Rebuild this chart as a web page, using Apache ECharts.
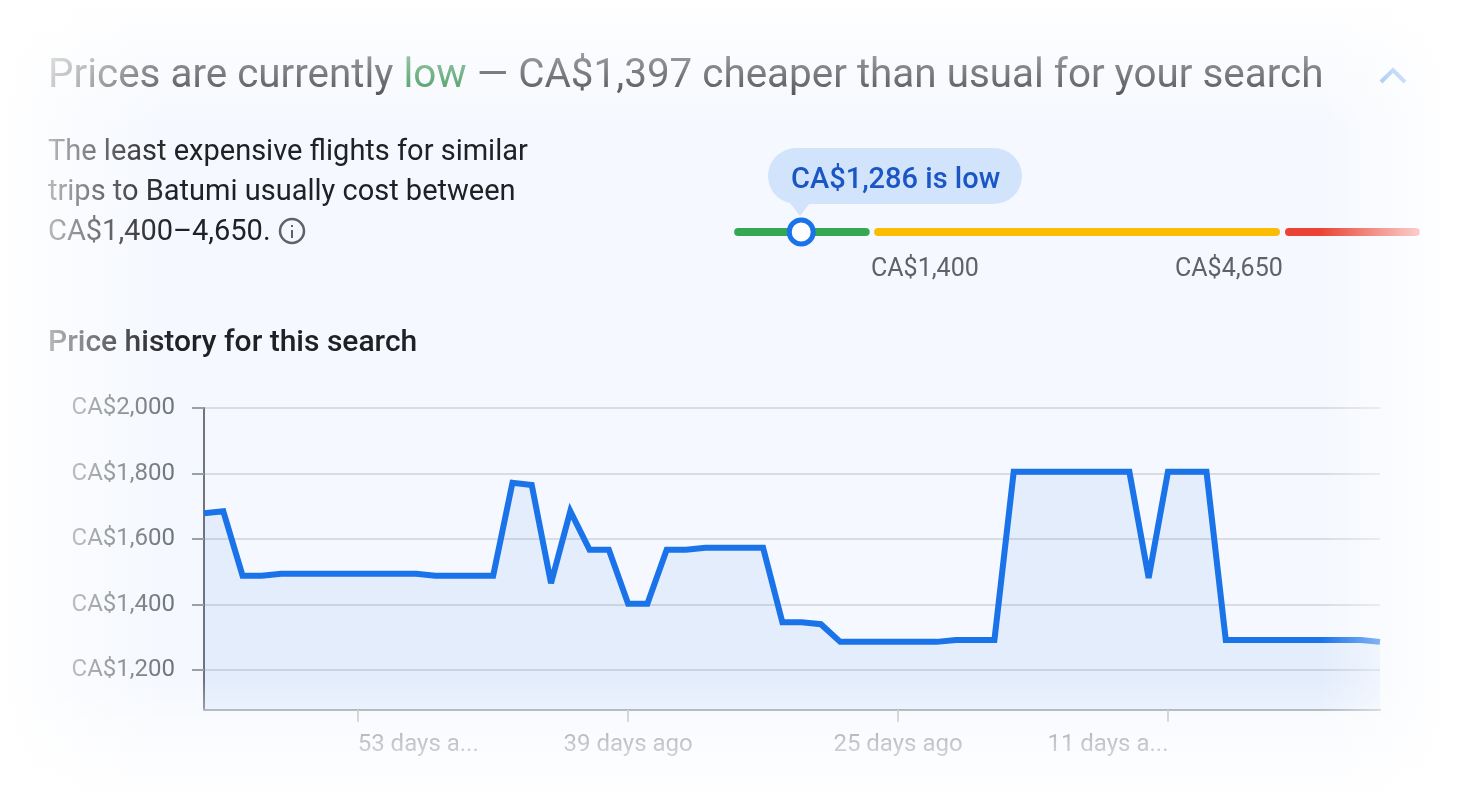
<!DOCTYPE html>
<html>
<head>
<meta charset="utf-8">
<title>Price history</title>
<style>
  html, body { margin: 0; padding: 0; background: #fff; }
  #main { width: 1468px; height: 798px; }
</style>
<script src="https://cdn.jsdelivr.net/npm/echarts@6/dist/echarts.min.js"></script>
</head>
<body>
<div id="main"></div>
<script>
// days before today, one point per day
var daysAgo = [61,60,59,58,57,56,55,54,53,52,51,50,49,48,47,46,45,44,43,42,41,40,39,38,37,36,35,34,33,32,31,30,29,28,27,26,25,24,23,22,21,20,19,18,17,16,15,14,13,12,11,10,9,8,7,6,5,4,3,2,1,0];
var prices = [1679,1685,1488,1488,1494,1494,1494,1494,1494,1494,1494,1494,1488,1488,1488,1488,1772,1765,1465,1685,1567,1567,1402,1402,1567,1567,1573,1573,1573,1573,1346,1346,1340,1286,1286,1286,1286,1286,1286,1292,1292,1292,1805,1805,1805,1805,1805,1805,1805,1481,1805,1805,1805,1292,1292,1292,1292,1292,1292,1292,1292,1286];
var priceTicks = [1200,1400,1600,1800,2000];
var labelledDays = [53,39,25,11];
var dayLabels = ['53 days a...','39 days ago','25 days ago','11 days a...'];

// position along the price range track, 0-100
var lowSegment = [0.6, 19.2];
var typicalSegment = [21, 79];
var highSegment = [80.9, 99.4];
var currentPosition = [9.8];
var currentLabel = 'CA$1,286 is low';

var chartDom = document.getElementById('main');
var myChart = echarts.init(chartDom);
var font = 'Roboto, "Noto Sans", sans-serif';

function segment(s) {
  return s.map(function (v) { return [v, 0]; });
}

function trackSeries(s, color) {
  return {
    type: 'line',
    xAxisIndex: 1,
    yAxisIndex: 1,
    data: segment(s),
    showSymbol: false,
    silent: true,
    clip: false,
    lineStyle: { color: color, width: 8, cap: 'round' }
  };
}

function fade(x, y, x2, y2, stops) {
  return { type: 'linear', x: x, y: y, x2: x2, y2: y2, colorStops: stops.map(function (s) {
    return { offset: s[0], color: 'rgba(255,255,255,' + s[1] + ')' };
  }) };
}

function isLabelled(i, d) {
  return labelledDays.indexOf(Number(d)) >= 0;
}

var option = {
  animation: false,
  backgroundColor: '#f5f8fe',
  grid: [
    { left: 204, top: 408, width: 1176, height: 302 },
    { left: 734, top: 222, width: 686, height: 20 }
  ],
  xAxis: [
    {
      type: 'category',
      boundaryGap: false,
      data: daysAgo,
      axisLine: { lineStyle: { color: '#9aa0a6', width: 2 } },
      axisTick: {
        length: 12,
        lineStyle: { color: '#bdc1c6', width: 2 },
        interval: isLabelled
      },
      axisLabel: {
        interval: isLabelled,
        margin: 23,
        fontFamily: font,
        fontSize: 24,
        color: '#70757a',
        formatter: function (d) {
          var k = labelledDays.indexOf(Number(d));
          if (k === 0) return '{r|' + dayLabels[k] + '}';
          if (k === 3) return '{l|' + dayLabels[k] + '}';
          return dayLabels[k];
        },
        rich: {
          r: { fontFamily: font, fontSize: 24, color: '#70757a', padding: [0, 0, 0, 120] },
          l: { fontFamily: font, fontSize: 24, color: '#70757a', padding: [0, 120, 0, 0] }
        }
      }
    },
    { gridIndex: 1, type: 'value', min: 0, max: 100, show: false }
  ],
  yAxis: [
    {
      type: 'value',
      min: 1078,
      max: 2000,
      axisLine: { show: true, lineStyle: { color: '#70757a', width: 2 } },
      axisTick: { show: true, length: 12, customValues: priceTicks, lineStyle: { color: '#9aa0a6', width: 2 } },
      splitLine: { show: true, customValues: priceTicks, lineStyle: { color: '#dadce0', width: 2 } },
      axisLabel: {
        customValues: priceTicks,
        margin: 29,
        padding: [4, 0, 0, 0],
        fontFamily: font,
        fontSize: 24,
        color: '#70757a',
        formatter: function (v) { return 'CA$' + echarts.format.addCommas(v); }
      }
    },
    { gridIndex: 1, type: 'value', min: -1, max: 1, show: false }
  ],
  series: [
    {
      type: 'line',
      data: prices,
      showSymbol: false,
      silent: true,
      lineStyle: { color: '#1a73e8', width: 6, join: 'miter', miterLimit: 4 },
      areaStyle: { color: 'rgba(26,115,232,0.11)' }
    },
    trackSeries(lowSegment, '#34a853'),
    trackSeries(typicalSegment, '#fbbc04'),
    trackSeries(highSegment, '#ea4335'),
    {
      type: 'scatter',
      xAxisIndex: 1,
      yAxisIndex: 1,
      z: 5,
      data: [[currentPosition[0], 0]],
      symbolSize: 24,
      silent: true,
      itemStyle: { color: '#fff', borderColor: '#1a73e8', borderWidth: 5, opacity: 1 }
    }
  ],
  graphic: [
    {
      type: 'text', left: 48, top: 57, z: 10,
      style: {
        text: 'Prices are currently {g|low} — CA$1,397 cheaper than usual for your search',
        font: '400 40.4px ' + font,
        fill: '#202124',
        rich: { g: { font: '400 40.4px ' + font, fill: '#188038' } }
      }
    },
    {
      type: 'text', left: 48, top: 133, z: 10,
      style: {
        text: 'The least expensive flights for similar\ntrips to Batumi usually cost between\nCA$1,400–4,650.',
        font: '400 29px ' + font,
        lineHeight: 40,
        fill: '#202124'
      }
    },
    {
      type: 'text', left: 48, top: 328, z: 10,
      style: { text: 'Price history for this search', font: '500 30px ' + font, fill: '#202124' }
    },
    // info icon
    { type: 'circle', shape: { cx: 292, cy: 231, r: 12 }, z: 10, style: { fill: 'none', stroke: '#5f6368', lineWidth: 2.5 } },
    { type: 'rect', shape: { x: 291, y: 230, width: 2, height: 8 }, z: 10, style: { fill: '#5f6368' } },
    { type: 'rect', shape: { x: 291, y: 225, width: 2, height: 2 }, z: 10, style: { fill: '#5f6368' } },
    // collapse chevron
    { type: 'polyline', shape: { points: [[1381, 82], [1393, 70], [1405, 82]] }, z: 10, style: { fill: 'none', stroke: '#1a73e8', lineWidth: 4 } },
    // current price bubble
    { type: 'rect', shape: { x: 768, y: 148, width: 254, height: 56, r: 28 }, z: 10, style: { fill: '#d2e3fc' } },
    { type: 'polygon', shape: { points: [[790, 203], [810, 203], [800, 216]] }, z: 10, style: { fill: '#d2e3fc' } },
    {
      type: 'text', left: 791, top: 166, z: 11,
      style: { text: currentLabel, font: '500 29px ' + font, fill: '#1a56c4' }
    },
    { type: 'text', left: 871, top: 257, z: 10, style: { text: 'CA$1,400', font: '400 25px ' + font, fill: '#5f6368' } },
    { type: 'text', left: 1175, top: 257, z: 10, style: { text: 'CA$4,650', font: '400 25px ' + font, fill: '#5f6368' } },
    // white vignette over the whole card
    { type: 'rect', silent: true, z: 100, shape: { x: 0, y: 0, width: 1468, height: 130 }, style: { fill: fade(0, 0, 0, 1, [[0, 1], [0.3, 0.72], [0.42, 0.55], [0.7, 0.28], [1, 0]]) } },
    { type: 'rect', silent: true, z: 100, shape: { x: 0, y: 680, width: 1468, height: 118 }, style: { fill: fade(0, 0, 0, 1, [[0, 0], [0.25, 0.3], [0.55, 0.6], [1, 1]]) } },
    { type: 'rect', silent: true, z: 100, shape: { x: 0, y: 0, width: 175, height: 798 }, style: { fill: fade(0, 0, 1, 0, [[0, 1], [0.28, 0.68], [0.57, 0.36], [0.86, 0.08], [1, 0]]) } },
    { type: 'rect', silent: true, z: 100, shape: { x: 1320, y: 0, width: 148, height: 798 }, style: { fill: fade(0, 0, 1, 0, [[0, 0], [0.4, 0.45], [0.68, 0.75], [0.88, 1], [1, 1]]) } }
  ]
};

option && myChart.setOption(option);
</script>
</body>
</html>
